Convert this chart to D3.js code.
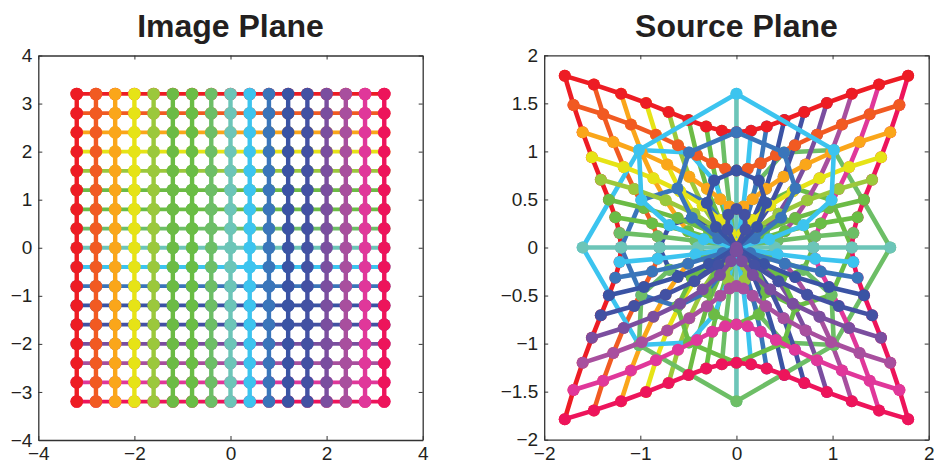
<!DOCTYPE html>
<html><head><meta charset="utf-8">
<script src="https://cdn.jsdelivr.net/npm/d3@7/dist/d3.min.js"></script>
<style>html,body{margin:0;padding:0;background:#fff}svg{display:block}
text{font-family:"Liberation Sans",Arial,sans-serif;fill:#231f20}</style></head>
<body><svg id="c" width="934" height="465"></svg>
<script>
const gridPositions=[-3.2,-2.8,-2.4,-2.0,-1.6,-1.2,-0.8,-0.4,0,0.4,0.8,1.2,1.6,2.0,2.4,2.8,3.2];
const rowY=[3.2,2.8,2.4,2.0,1.6,1.2,0.8,0.4,0,-0.4,-0.8,-1.2,-1.6,-2.0,-2.4,-2.8,-3.2];
const palette=["#ed1c24","#f15a22","#faa61a","#e6e316","#9bc83c","#6cbb45","#6abd45","#6dbe66","#6cc5b8","#3cc4ef","#3a75ba","#3a53a4","#4351a3","#7a4e9f","#a84f9e","#e0379a","#ed145b"];
const sourceX=[
[-1.786,-1.483,-1.2,-.94,-.706,-.498,-.315,-.152,0,.152,.315,.498,.706,.94,1.2,1.483,1.786],
[-1.695,-1.386,-1.098,-.838,-.608,-.412,-.251,-.117,0,.117,.251,.412,.608,.838,1.098,1.386,1.695],
[-1.6,-1.281,-.986,-.72,-.491,-.306,-.168,-.071,0,.071,.168,.306,.491,.72,.986,1.281,1.6],
[-1.504,-1.173,-.864,-.586,-.351,-.171,-.057,-.008,0,.008,.057,.171,.351,.586,.864,1.173,1.504],
[-1.411,-1.064,-.736,-.438,-.186,0,.094,.085,0,-.085,-.094,0,.186,.438,.736,1.064,1.411],
[-1.327,-.962,-.611,-.285,0,.214,.309,.232,0,-.232,-.309,-.214,0,.285,.611,.962,1.327],
[-1.26,-.877,-.503,-.143,.189,.464,.614,.494,0,-.494,-.614,-.464,-.189,.143,.503,.877,1.26],
[-1.216,-.82,-.427,-.039,.34,.697,.989,1.014,0,-1.014,-.989,-.697,-.34,.039,.427,.82,1.216],
[-1.2,-.8,-.4,0,.4,.8,1.2,1.6,0,-1.6,-1.2,-.8,-.4,0,.4,.8,1.2],
[-1.216,-.82,-.427,-.039,.34,.697,.989,1.014,0,-1.014,-.989,-.697,-.34,.039,.427,.82,1.216],
[-1.26,-.877,-.503,-.143,.189,.464,.614,.494,0,-.494,-.614,-.464,-.189,.143,.503,.877,1.26],
[-1.327,-.962,-.611,-.285,0,.214,.309,.232,0,-.232,-.309,-.214,0,.285,.611,.962,1.327],
[-1.411,-1.064,-.736,-.438,-.186,0,.094,.085,0,-.085,-.094,0,.186,.438,.736,1.064,1.411],
[-1.504,-1.173,-.864,-.586,-.351,-.171,-.057,-.008,0,.008,.057,.171,.351,.586,.864,1.173,1.504],
[-1.6,-1.281,-.986,-.72,-.491,-.306,-.168,-.071,0,.071,.168,.306,.491,.72,.986,1.281,1.6],
[-1.695,-1.386,-1.098,-.838,-.608,-.412,-.251,-.117,0,.117,.251,.412,.608,.838,1.098,1.386,1.695],
[-1.786,-1.483,-1.2,-.94,-.706,-.498,-.315,-.152,0,.152,.315,.498,.706,.94,1.2,1.483,1.786]];
const sourceY=[
[1.786,1.695,1.6,1.504,1.411,1.327,1.26,1.216,1.2,1.216,1.26,1.327,1.411,1.504,1.6,1.695,1.786],
[1.483,1.386,1.281,1.173,1.064,.962,.877,.82,.8,.82,.877,.962,1.064,1.173,1.281,1.386,1.483],
[1.2,1.098,.986,.864,.736,.611,.503,.427,.4,.427,.503,.611,.736,.864,.986,1.098,1.2],
[.94,.838,.72,.586,.438,.285,.143,.039,0,.039,.143,.285,.438,.586,.72,.838,.94],
[.706,.608,.491,.351,.186,0,-.189,-.34,-.4,-.34,-.189,0,.186,.351,.491,.608,.706],
[.498,.412,.306,.171,0,-.214,-.464,-.697,-.8,-.697,-.464,-.214,0,.171,.306,.412,.498],
[.315,.251,.168,.057,-.094,-.309,-.614,-.989,-1.2,-.989,-.614,-.309,-.094,.057,.168,.251,.315],
[.152,.117,.071,.008,-.085,-.232,-.494,-1.014,-1.6,-1.014,-.494,-.232,-.085,.008,.071,.117,.152],
[0,0,0,0,0,0,0,0,0,0,0,0,0,0,0,0,0],
[-.152,-.117,-.071,-.008,.085,.232,.494,1.014,1.6,1.014,.494,.232,.085,-.008,-.071,-.117,-.152],
[-.315,-.251,-.168,-.057,.094,.309,.614,.989,1.2,.989,.614,.309,.094,-.057,-.168,-.251,-.315],
[-.498,-.412,-.306,-.171,0,.214,.464,.697,.8,.697,.464,.214,0,-.171,-.306,-.412,-.498],
[-.706,-.608,-.491,-.351,-.186,0,.189,.34,.4,.34,.189,0,-.186,-.351,-.491,-.608,-.706],
[-.94,-.838,-.72,-.586,-.438,-.285,-.143,-.039,0,-.039,-.143,-.285,-.438,-.586,-.72,-.838,-.94],
[-1.2,-1.098,-.986,-.864,-.736,-.611,-.503,-.427,-.4,-.427,-.503,-.611,-.736,-.864,-.986,-1.098,-1.2],
[-1.483,-1.386,-1.281,-1.173,-1.064,-.962,-.877,-.82,-.8,-.82,-.877,-.962,-1.064,-1.173,-1.281,-1.386,-1.483],
[-1.786,-1.695,-1.6,-1.504,-1.411,-1.327,-1.26,-1.216,-1.2,-1.216,-1.26,-1.327,-1.411,-1.504,-1.6,-1.695,-1.786]];
const imageXTicks=[-4,-2,0,2,4], imageYTicks=[-4,-3,-2,-1,0,1,2,3,4];
const sourceXTicks=[-2,-1,0,1,2], sourceYTicks=[-2,-1.5,-1,-0.5,0,0.5,1,1.5,2];

const svg=d3.select("#c");
const fmt=d=>String(d).replace("-","\u2212");

function panel(o){
  const x=d3.scaleLinear().domain(o.dom).range([o.l,o.r]);
  const y=d3.scaleLinear().domain(o.dom).range([o.b,o.t]);
  const g=svg.append("g");
  const line=d3.line().x(p=>x(p[0])).y(p=>y(p[1]));
  const n=gridPositions.length;
  const rows=d3.range(n).map(j=>d3.range(n).map(i=>[o.px(j,i),o.py(j,i)]));
  const cols=d3.range(n).map(i=>d3.range(n).map(j=>[o.px(j,i),o.py(j,i)]));
  function draw(set,w){
    set.forEach((pts,k)=>{
      const s=g.append("g");
      s.append("path").attr("d",line(pts)).attr("fill","none").attr("stroke",palette[k])
        .attr("stroke-width",w).attr("stroke-linejoin","round");
      s.selectAll("circle").data(pts).join("circle")
        .attr("cx",p=>x(p[0])).attr("cy",p=>y(p[1])).attr("r",o.mr).attr("fill",palette[k]);
    });
  }
  if(o.rowsFirst){draw(rows,o.rw);draw(cols,o.cw);} else {draw(cols,o.cw);draw(rows,o.rw);}
  const ax=svg.append("g");
  const style=(sel)=>{
    sel.selectAll("path").attr("stroke","#333").attr("stroke-width",1.3);
    sel.selectAll("line").attr("stroke","#333").attr("stroke-width",1);
    sel.selectAll("text").style("font-size","19px").attr("fill","#231f20");
  };
  ax.append("g").attr("transform",`translate(0,${o.b})`)
    .call(d3.axisBottom(x).tickValues(o.xt).tickFormat(fmt).tickSizeInner(-4).tickSizeOuter(0).tickPadding(7)).call(style);
  ax.append("g").attr("transform",`translate(${o.l},0)`)
    .call(d3.axisLeft(y).tickValues(o.yt).tickFormat(fmt).tickSizeInner(-4).tickSizeOuter(0).tickPadding(6)).call(style);
  ax.append("g").attr("transform",`translate(0,${o.t})`)
    .call(d3.axisTop(x).tickValues(o.xt).tickFormat("").tickSizeInner(-4).tickSizeOuter(0)).call(style);
  ax.append("g").attr("transform",`translate(${o.r},0)`)
    .call(d3.axisRight(y).tickValues(o.yt).tickFormat("").tickSizeInner(-4).tickSizeOuter(0)).call(style);
  svg.append("text").attr("x",(o.l+o.r)/2).attr("y",37).attr("text-anchor","middle")
    .style("font-size","32px").style("font-weight","bold").text(o.title);
}
panel({title:"Image Plane",dom:[-4,4],l:38.3,r:422.7,t:55.5,b:440,xt:imageXTicks,yt:imageYTicks,
  px:(j,i)=>gridPositions[i],py:(j,i)=>rowY[j],rowsFirst:true,mr:6.3,rw:3.8,cw:4.4});
panel({title:"Source Plane",dom:[-2,2],l:544.2,r:928.7,t:55.3,b:439.7,xt:sourceXTicks,yt:sourceYTicks,
  px:(j,i)=>sourceX[j][i],py:(j,i)=>sourceY[j][i],rowsFirst:false,mr:6,rw:4.6,cw:4.6});
</script></body></html>
